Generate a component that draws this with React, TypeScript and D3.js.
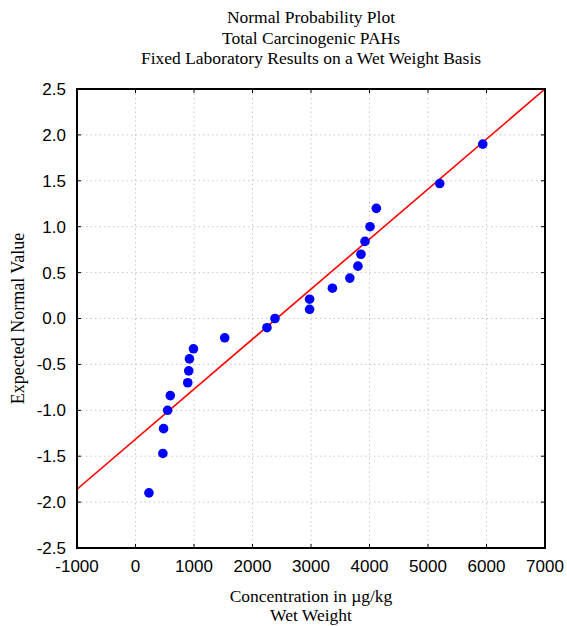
import * as d3 from "d3";

const W = 567;
const H = 626;
const MARGIN = { top: 89, right: 22, bottom: 78, left: 77 };

const TITLE = [
  "Normal Probability Plot",
  "Total Carcinogenic PAHs",
  "Fixed Laboratory Results on a Wet Weight Basis",
];
const X_LABEL = ["Concentration in \u00b5g/kg", "Wet Weight"];
const Y_LABEL = "Expected Normal Value";

const X_TICKS = [-1000, 0, 1000, 2000, 3000, 4000, 5000, 6000, 7000];
const Y_TICKS = [-2.5, -2.0, -1.5, -1.0, -0.5, 0.0, 0.5, 1.0, 1.5, 2.0, 2.5];

// observed concentrations (sorted) and their expected normal values
const conc = [
  230, 468, 480, 549, 595, 893, 910, 922, 991, 1525, 2247, 2384, 2976, 2976,
  3366, 3664, 3802, 3854, 3923, 4009, 4117, 5201, 5936,
];
const expected = [
  -1.9, -1.47, -1.2, -1.0, -0.84, -0.7, -0.57, -0.44, -0.33, -0.21, -0.1, 0.0,
  0.1, 0.21, 0.33, 0.44, 0.57, 0.7, 0.84, 1.0, 1.2, 1.47, 1.9,
];

// fitted reference line
const fitX = [-1000, 7000];
const fitY = [-1.86, 2.5];

const SANS = "'Liberation Sans', Arial, sans-serif";
const SERIF = "'Liberation Serif', 'Times New Roman', serif";

export default function App() {
  const innerW = W - MARGIN.left - MARGIN.right;
  const innerH = H - MARGIN.top - MARGIN.bottom;

  const x = d3.scaleLinear().domain([-1000, 7000]).range([0, innerW]);
  const y = d3.scaleLinear().domain([-2.5, 2.5]).range([innerH, 0]);

  const line = d3
    .line<number>()
    .x((d) => x(d))
    .y((_, i) => y(fitY[i]));

  const cx = MARGIN.left + innerW / 2;
  const tickLen = 4;

  return (
    <svg
      width={W}
      height={H}
      style={{ position: "absolute", left: 0, top: 0, background: "#fff" }}
    >
      {TITLE.map((t, i) => (
        <text
          key={t}
          x={cx}
          y={23 + i * 20.5}
          textAnchor="middle"
          style={{ font: `17.5px ${SERIF}` }}
          fill="#000"
        >
          {t}
        </text>
      ))}

      <defs>
        <clipPath id="plot-clip">
          <rect x={0} y={0} width={innerW} height={innerH} />
        </clipPath>
      </defs>

      <g transform={`translate(${MARGIN.left},${MARGIN.top})`}>
        {/* grid */}
        {X_TICKS.slice(1, -1).map((t) => (
          <line
            key={`gx${t}`}
            x1={x(t)}
            x2={x(t)}
            y1={0}
            y2={innerH}
            stroke="#c8c8c8"
            strokeDasharray="1.5,3"
          />
        ))}
        {Y_TICKS.slice(1, -1).map((t) => (
          <line
            key={`gy${t}`}
            x1={0}
            x2={innerW}
            y1={y(t)}
            y2={y(t)}
            stroke="#c8c8c8"
            strokeDasharray="1.5,3"
          />
        ))}

        {/* fitted line */}
        <path
          d={line(fitX) ?? ""}
          fill="none"
          stroke="#ff0000"
          strokeWidth={1.6}
          clipPath="url(#plot-clip)"
        />

        {/* points */}
        {conc.map((c, i) => (
          <circle key={i} cx={x(c)} cy={y(expected[i])} r={4.8} fill="#0000ff" />
        ))}

        {/* ticks, inside on all sides */}
        {X_TICKS.map((t) => (
          <g key={`tx${t}`}>
            <line x1={x(t)} x2={x(t)} y1={innerH} y2={innerH - tickLen} stroke="#000" />
            <line x1={x(t)} x2={x(t)} y1={0} y2={tickLen} stroke="#000" />
            <text
              x={x(t)}
              y={innerH + 24}
              textAnchor="middle"
              style={{ font: `17px ${SANS}` }}
            >
              {t}
            </text>
          </g>
        ))}
        {Y_TICKS.map((t) => (
          <g key={`ty${t}`}>
            <line x1={0} x2={tickLen} y1={y(t)} y2={y(t)} stroke="#000" />
            <line x1={innerW} x2={innerW - tickLen} y1={y(t)} y2={y(t)} stroke="#000" />
            <text
              x={-11}
              y={y(t)}
              dy="0.35em"
              textAnchor="end"
              style={{ font: `17px ${SANS}` }}
            >
              {t.toFixed(1)}
            </text>
          </g>
        ))}

        <rect
          x={0}
          y={0}
          width={innerW}
          height={innerH}
          fill="none"
          stroke="#000"
          strokeWidth={2}
        />
      </g>

      {X_LABEL.map((t, i) => (
        <text
          key={t}
          x={cx}
          y={602 + i * 19}
          textAnchor="middle"
          style={{ font: `17.5px ${SERIF}` }}
        >
          {t}
        </text>
      ))}
      <text
        transform={`translate(24,${MARGIN.top + innerH / 2}) rotate(-90)`}
        textAnchor="middle"
        style={{ font: `18px ${SERIF}` }}
      >
        {Y_LABEL}
      </text>
    </svg>
  );
}
